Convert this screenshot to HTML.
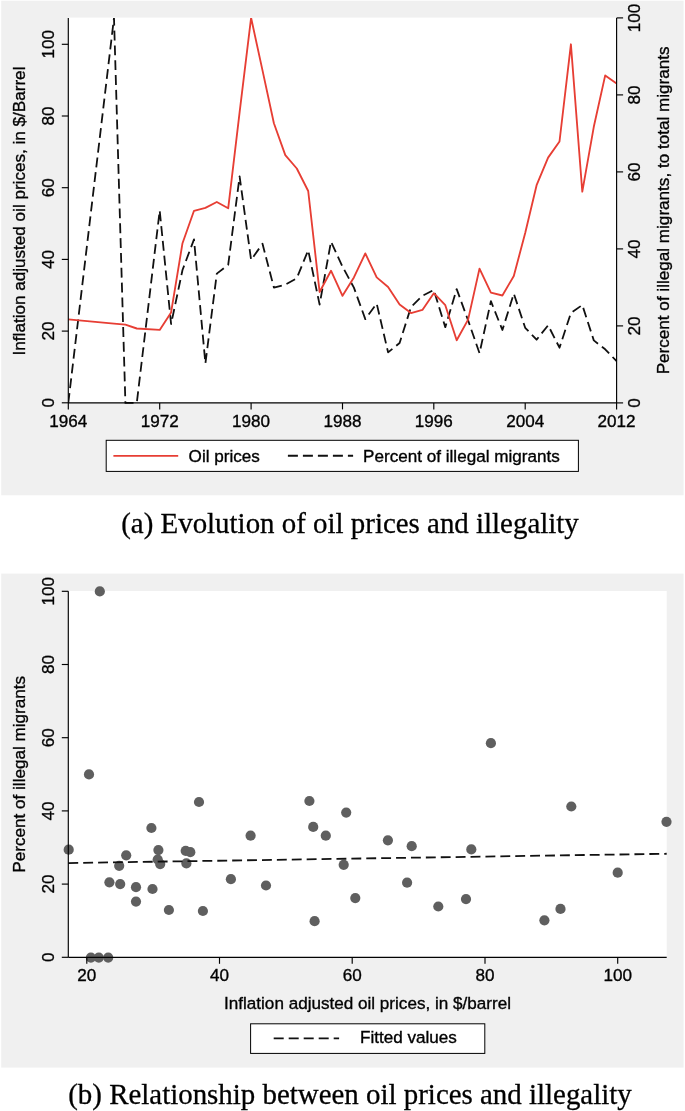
<!DOCTYPE html>
<html lang="en"><head><meta charset="utf-8"><title>Oil prices and illegality</title>
<style>
html,body{margin:0;padding:0;background:#fff;}
body{width:685px;height:1111px;overflow:hidden;}
svg{display:block;}
.s{font-family:'Liberation Sans', Arial, Helvetica, sans-serif;font-size:17.1px;fill:#000;stroke:#000;stroke-width:0.35px;}
.c{font-family:'Liberation Serif', 'Times New Roman', Times, serif;font-size:28.92px;fill:#000;stroke:#000;stroke-width:0.3px;}
</style></head><body>
<svg width="685" height="1111" viewBox="0 0 685 1111">
<rect width="685" height="1111" fill="#fff"/>
<g opacity="0.999">

<rect x="1.2" y="0.7" width="682.4" height="494.6" fill="#f0f0f0"/>
<rect x="68.3" y="17.6" width="548.3" height="385.3" fill="#fff"/>
<clipPath id="ca"><rect x="68.3" y="17.9" width="549.3" height="386.0"/></clipPath>
<g clip-path="url(#ca)" fill="none" stroke-linejoin="round">
<polyline points="68.3,402.9 114.0,17.9 125.4,402.9 136.8,402.9 159.7,210.6 171.1,324.0 182.5,270.0 194.0,239.4 205.4,363.5 216.8,273.6 228.2,264.8 239.6,176.4 251.1,259.9 262.5,243.8 273.9,287.6 285.3,284.7 296.8,278.2 308.2,250.2 319.6,304.5 331.0,241.6 342.5,266.6 353.9,287.6 365.3,319.1 376.7,303.6 388.1,352.4 399.6,343.0 411.0,307.0 422.4,295.8 433.8,290.0 445.3,327.2 456.7,289.1 468.1,320.4 479.5,353.2 490.9,301.2 502.4,330.0 513.8,293.7 525.2,327.8 536.6,339.7 548.1,325.3 559.5,347.7 570.9,313.0 582.3,305.0 593.8,340.4 605.2,349.3 616.6,361.2" stroke="#111" stroke-width="1.8" stroke-dasharray="9.85 4.98"/>
<polyline points="68.3,319.3 114.0,323.6 125.4,324.7 136.8,328.5 159.7,329.9 171.1,312.4 182.5,243.2 194.0,210.8 205.4,207.9 216.8,202.0 228.2,208.3 239.6,112.4 251.1,17.8 262.5,70.4 273.9,123.3 285.3,155.1 296.8,168.5 308.2,191.0 319.6,292.0 331.0,270.7 342.5,295.8 353.9,277.4 365.3,253.4 376.7,277.4 388.1,287.0 399.6,304.5 411.0,313.1 422.4,309.9 433.8,293.2 445.3,305.2 456.7,340.3 468.1,319.6 479.5,268.6 490.9,292.7 502.4,295.5 513.8,276.0 525.2,233.0 536.6,185.2 548.1,157.6 559.5,141.5 570.9,44.3 582.3,191.7 593.8,126.8 605.2,75.4 616.6,83.6" stroke="#e73e34" stroke-width="1.85"/>
</g>
<g stroke="#000" stroke-width="1.15" fill="none">
<path d="M68.3 17.9V402.9"/>
<path d="M68.3 402.9H616.6"/>
<path d="M616.6 17.9V402.9"/>
<path d="M61.8 402.8H68.3"/>
<path d="M616.6 402.9H623.1"/>
<path d="M61.8 331.1H68.3"/>
<path d="M616.6 325.9H623.1"/>
<path d="M61.8 259.4H68.3"/>
<path d="M616.6 248.9H623.1"/>
<path d="M61.8 187.7H68.3"/>
<path d="M616.6 171.9H623.1"/>
<path d="M61.8 116.0H68.3"/>
<path d="M616.6 94.9H623.1"/>
<path d="M61.8 44.3H68.3"/>
<path d="M616.6 17.9H623.1"/>
<path d="M68.3 402.9V409.4"/>
<path d="M159.7 402.9V409.4"/>
<path d="M251.1 402.9V409.4"/>
<path d="M342.5 402.9V409.4"/>
<path d="M433.8 402.9V409.4"/>
<path d="M525.2 402.9V409.4"/>
<path d="M616.6 402.9V409.4"/>
</g>
<g class="s" text-anchor="middle" opacity="0.998">
<text x="68.3" y="426.7">1964</text>
<text x="159.7" y="426.7">1972</text>
<text x="251.1" y="426.7">1980</text>
<text x="342.5" y="426.7">1988</text>
<text x="433.8" y="426.7">1996</text>
<text x="525.2" y="426.7">2004</text>
<text x="616.6" y="426.7">2012</text>
<text transform="translate(54.4 402.8) rotate(-90)">0</text>
<text transform="translate(640.2 402.9) rotate(-90)">0</text>
<text transform="translate(54.4 331.1) rotate(-90)">20</text>
<text transform="translate(640.2 325.9) rotate(-90)">20</text>
<text transform="translate(54.4 259.4) rotate(-90)">40</text>
<text transform="translate(640.2 248.9) rotate(-90)">40</text>
<text transform="translate(54.4 187.7) rotate(-90)">60</text>
<text transform="translate(640.2 171.9) rotate(-90)">60</text>
<text transform="translate(54.4 116.0) rotate(-90)">80</text>
<text transform="translate(640.2 94.9) rotate(-90)">80</text>
<text transform="translate(54.4 44.3) rotate(-90)">100</text>
<text transform="translate(640.2 17.9) rotate(-90)">100</text>
<text transform="translate(24.7 211.0) rotate(-90)">Inflation adjusted oil prices, in $/Barrel</text>
<text transform="translate(668.8 210.4) rotate(-90)">Percent of illegal migrants, to total migrants</text>
</g>
<rect x="106.2" y="440.3" width="472.2" height="31.1" fill="#fff" stroke="#000" stroke-width="1"/>
<path d="M113.4 455.85H178.2" stroke="#e73e34" stroke-width="1.9"/>
<path d="M287.9 455.8H353.1" stroke="#111" stroke-width="1.9" stroke-dasharray="10 5"/>
<text class="s" x="188.6" y="462.1">Oil prices</text>
<text class="s" x="363.1" y="462.1">Percent of illegal migrants</text>
<text class="c" x="350.0" y="533" text-anchor="middle">(a) Evolution of oil prices and illegality</text>
<rect x="1.2" y="573.6" width="682.4" height="494.0" fill="#f0f0f0"/>
<rect x="68.3" y="591.0" width="598.4" height="366.3" fill="#fff"/>
<g fill="#5f5f5f">
<circle cx="89.0" cy="774.4" r="5.1"/>
<circle cx="68.7" cy="849.7" r="5.1"/>
<circle cx="126.2" cy="855.3" r="5.1"/>
<circle cx="119.2" cy="865.8" r="5.1"/>
<circle cx="109.4" cy="882.3" r="5.1"/>
<circle cx="120.2" cy="884.1" r="5.1"/>
<circle cx="136.0" cy="887.2" r="5.1"/>
<circle cx="136.0" cy="901.6" r="5.1"/>
<circle cx="152.5" cy="889.0" r="5.1"/>
<circle cx="151.4" cy="828.0" r="5.1"/>
<circle cx="158.4" cy="850.1" r="5.1"/>
<circle cx="157.7" cy="859.5" r="5.1"/>
<circle cx="160.2" cy="864.1" r="5.1"/>
<circle cx="168.9" cy="910.0" r="5.1"/>
<circle cx="185.7" cy="850.8" r="5.1"/>
<circle cx="190.3" cy="852.2" r="5.1"/>
<circle cx="186.4" cy="863.4" r="5.1"/>
<circle cx="199.0" cy="802.0" r="5.1"/>
<circle cx="202.9" cy="911.0" r="5.1"/>
<circle cx="230.9" cy="879.2" r="5.1"/>
<circle cx="250.6" cy="835.7" r="5.1"/>
<circle cx="266.0" cy="885.5" r="5.1"/>
<circle cx="90.9" cy="957.6" r="5.1"/>
<circle cx="98.8" cy="957.6" r="5.1"/>
<circle cx="108.2" cy="957.6" r="5.1"/>
<circle cx="99.8" cy="591.4" r="5.1"/>
<circle cx="309.4" cy="801.0" r="5.1"/>
<circle cx="313.2" cy="826.9" r="5.1"/>
<circle cx="325.8" cy="835.7" r="5.1"/>
<circle cx="314.6" cy="921.2" r="5.1"/>
<circle cx="346.2" cy="812.6" r="5.1"/>
<circle cx="343.7" cy="864.8" r="5.1"/>
<circle cx="355.3" cy="898.1" r="5.1"/>
<circle cx="387.9" cy="840.3" r="5.1"/>
<circle cx="411.7" cy="846.2" r="5.1"/>
<circle cx="407.1" cy="882.7" r="5.1"/>
<circle cx="438.3" cy="906.5" r="5.1"/>
<circle cx="466.0" cy="899.1" r="5.1"/>
<circle cx="471.3" cy="849.4" r="5.1"/>
<circle cx="490.9" cy="743.2" r="5.1"/>
<circle cx="571.3" cy="806.5" r="5.1"/>
<circle cx="666.5" cy="821.8" r="5.1"/>
<circle cx="617.7" cy="872.7" r="5.1"/>
<circle cx="560.5" cy="908.9" r="5.1"/>
<circle cx="544.4" cy="920.3" r="5.1"/>
</g>
<path d="M68.3 863.05L666.7 853.75" stroke="#111" stroke-width="1.8" stroke-dasharray="9.9 5" fill="none"/>
<g stroke="#000" stroke-width="1.15" fill="none">
<path d="M68.3 591.3V957.3"/>
<path d="M68.3 957.3H666.7"/>
<path d="M61.8 957.3H68.3"/>
<path d="M61.8 884.1H68.3"/>
<path d="M61.8 810.9H68.3"/>
<path d="M61.8 737.7H68.3"/>
<path d="M61.8 664.5H68.3"/>
<path d="M61.8 591.3H68.3"/>
<path d="M86.8 957.3V963.8"/>
<path d="M219.5 957.3V963.8"/>
<path d="M352.2 957.3V963.8"/>
<path d="M485.0 957.3V963.8"/>
<path d="M617.7 957.3V963.8"/>
</g>
<g class="s" text-anchor="middle" opacity="0.998">
<text x="86.8" y="981.1">20</text>
<text x="219.5" y="981.1">40</text>
<text x="352.2" y="981.1">60</text>
<text x="485.0" y="981.1">80</text>
<text x="617.7" y="981.1">100</text>
<text transform="translate(54.4 957.3) rotate(-90)">0</text>
<text transform="translate(54.4 884.1) rotate(-90)">20</text>
<text transform="translate(54.4 810.9) rotate(-90)">40</text>
<text transform="translate(54.4 737.7) rotate(-90)">60</text>
<text transform="translate(54.4 664.5) rotate(-90)">80</text>
<text transform="translate(54.4 591.3) rotate(-90)">100</text>
<text transform="translate(24.5 774.3) rotate(-90)">Percent of illegal migrants</text>
<text x="367.5" y="1009.3">Inflation adjusted oil prices, in $/barrel</text>
</g>
<rect x="250.6" y="1023.8" width="234.2" height="29.6" fill="#fff" stroke="#000" stroke-width="1"/>
<path d="M273.7 1038.4H339.1" stroke="#111" stroke-width="1.9" stroke-dasharray="10 5"/>
<text class="s" x="360.0" y="1042.8">Fitted values</text>
<text class="c" x="350.0" y="1103.8" text-anchor="middle">(b) Relationship between oil prices and illegality</text>
</g>
</svg>
</body></html>
